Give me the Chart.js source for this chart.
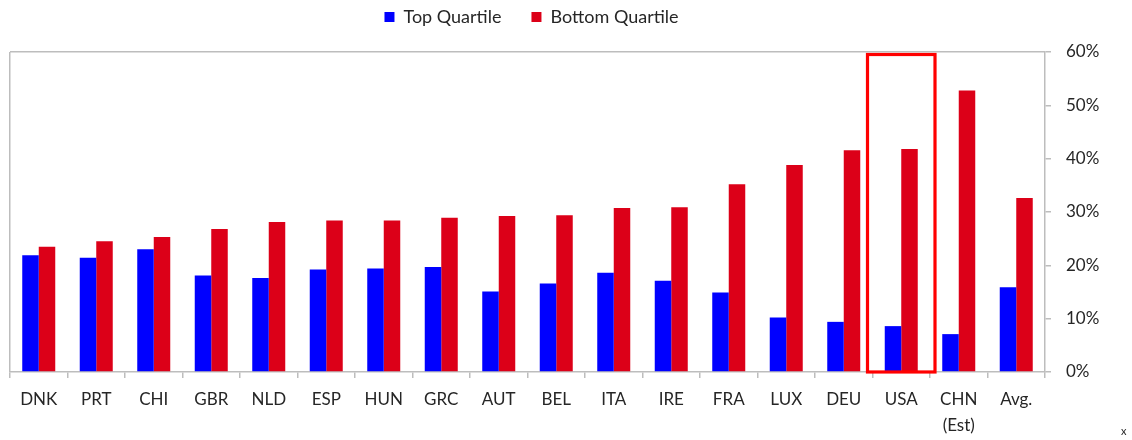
<!DOCTYPE html>
<html>
<head>
<meta charset="utf-8">
<script src="https://cdn.jsdelivr.net/npm/chart.js@4/dist/chart.umd.min.js"></script>
<style>
    html, body { margin: 0; padding: 0; background: #fff; }
    #wrap { position: relative; width: 1132px; height: 440px; }
    #note { position: absolute; left: 1121px; top: 424px; font: 11px Lato, sans-serif; color: #262626; }
</style>
</head>
<body>
<div id="wrap">
    <canvas id="quartileChart" width="1132" height="440"></canvas>
    <div id="note">x</div>
</div>
<script>
const countries = ['DNK', 'PRT', 'CHI', 'GBR', 'NLD', 'ESP', 'HUN', 'GRC', 'AUT', 'BEL', 'ITA', 'IRE', 'FRA', 'LUX', 'DEU', 'USA', ['CHN', '(Est)'], 'Avg.'];
const topQuartile = [21.9, 21.4, 23.0, 18.1, 17.6, 19.2, 19.4, 19.7, 15.1, 16.6, 18.6, 17.1, 14.9, 10.2, 9.4, 8.6, 7.1, 15.9];
const bottomQuartile = [23.5, 24.5, 25.3, 26.8, 28.1, 28.4, 28.4, 28.9, 29.25, 29.4, 30.75, 30.9, 35.2, 38.8, 41.6, 41.8, 52.8, 32.6];
const yTicks = [0, 10, 20, 30, 40, 50, 60];
const highlighted = 'USA';

const gray = '#bdbdbd';
const textColor = '#262626';

// legend sits higher than the plot, centred over the plot area
const legendSpace = {
    id: 'legendSpace',
    beforeInit(chart) {
        const fit = chart.legend.fit;
        chart.legend.fit = function () {
            fit.bind(chart.legend)();
            this.height += 16;
        };
    },
    afterLayout(chart) {
        const l = chart.legend;
        l.left = chart.chartArea.left + 4;
        l.right = chart.chartArea.right + 4;
        l.width = l.right - l.left;
    }
};

// red frame round the highlighted country
const highlightBox = {
    id: 'highlightBox',
    afterDatasetsDraw(chart) {
        const x = chart.scales.x;
        const idx = countries.indexOf(highlighted);
        const cx = x.getPixelForValue(idx);
        const half = (x.width / countries.length) / 2 + 5;
        const { top, bottom } = chart.chartArea;
        const ctx = chart.ctx;
        ctx.save();
        ctx.strokeStyle = '#ff0000';
        ctx.lineWidth = 3.2;
        ctx.strokeRect(cx - half, top + 2.5, half * 2, bottom - top - 2.5);
        ctx.restore();
    }
};

new Chart(document.getElementById('quartileChart'), {
    type: 'bar',
    data: {
        labels: countries,
        datasets: [
            { label: 'Top Quartile', data: topQuartile, backgroundColor: '#0000ff', categoryPercentage: 0.574, barPercentage: 1 },
            { label: 'Bottom Quartile', data: bottomQuartile, backgroundColor: '#dc0018', categoryPercentage: 0.574, barPercentage: 1 }
        ]
    },
    options: {
        responsive: false,
        animation: false,
        layout: { padding: { left: 10, right: 0, top: -22, bottom: -8 } },
        font: { family: 'Lato, sans-serif' },
        plugins: {
            legend: {
                position: 'top',
                labels: {
                    boxWidth: 10,
                    boxHeight: 10,
                    padding: 30,
                    color: textColor,
                    font: { family: 'Lato, sans-serif', size: 18 }
                }
            },
            tooltip: { enabled: false }
        },
        scales: {
            x: {
                grid: {
                    color: ctx => ctx.index === 0 ? gray : 'transparent',
                    tickColor: gray,
                    tickLength: 6,
                    lineWidth: 1.5
                },
                border: { color: gray, width: 1.5 },
                ticks: {
                    color: textColor,
                    padding: 9,
                    maxRotation: 0,
                    autoSkip: false,
                    font: { family: 'Lato, sans-serif', size: 17, lineHeight: 1.53 }
                }
            },
            y: {
                position: 'right',
                min: 0,
                max: 60,
                afterBuildTicks: scale => { scale.ticks = yTicks.map(v => ({ value: v })); },
                afterFit: scale => { scale.width = 87; },
                grid: {
                    color: ctx => ctx.tick && ctx.tick.value === 60 ? gray : 'transparent',
                    tickColor: gray,
                    tickLength: 6,
                    lineWidth: 1.5
                },
                border: { color: gray, width: 1.5 },
                ticks: {
                    color: textColor,
                    padding: 15,
                    font: { family: 'Lato, sans-serif', size: 17 },
                    callback: v => v + '%'
                }
            }
        }
    },
    plugins: [legendSpace, highlightBox]
});
</script>
</body>
</html>
